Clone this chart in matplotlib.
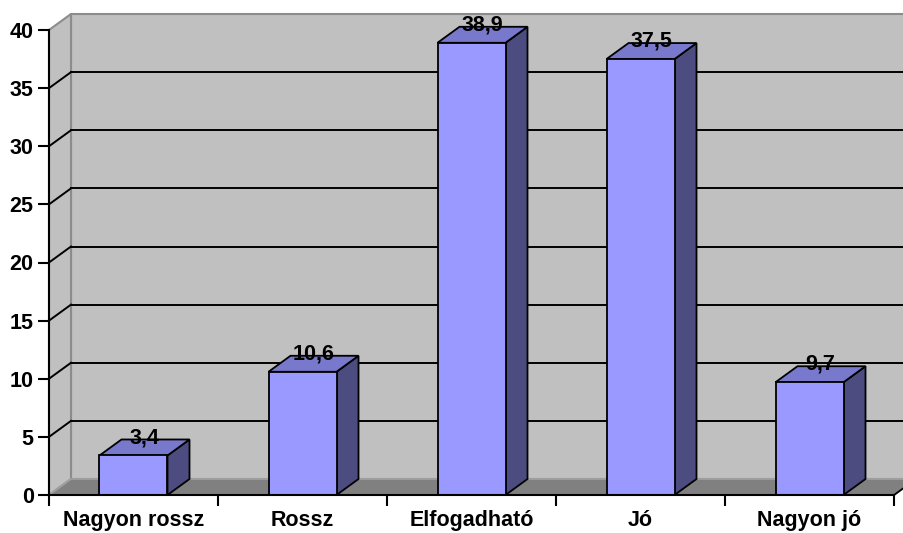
import matplotlib
matplotlib.use("Agg")
import matplotlib.pyplot as plt
from matplotlib.patches import Polygon, Rectangle

categories = ["Nagyon rossz", "Rossz", "Elfogadható", "Jó", "Nagyon jó"]
values = [3.4, 10.6, 38.9, 37.5, 9.7]
value_labels = ["3,4", "10,6", "38,9", "37,5", "9,7"]
y_ticks = [0, 5, 10, 15, 20, 25, 30, 35, 40]

plt.rcParams["font.family"] = ["Liberation Sans", "DejaVu Sans"]
plt.rcParams["font.weight"] = "bold"

W, H = 904, 533
fig = plt.figure(figsize=(W / 100, H / 100), dpi=100)
fig.patch.set_facecolor("white")

# plot area: front axis plane
ax = fig.add_axes([49 / W, 38 / H, 845 / W, 465 / H])
n = len(categories)
ymax = 40
ax.set_xlim(0, n)
ax.set_ylim(0, ymax)
ax.patch.set_visible(False)

# depth offset of the 3-D box, in data units
px_x = 845 / n
px_y = 465 / ymax
dx = 22 / px_x
dy = 16 / px_y

wall_c = "#C0C0C0"
floor_c = "#808080"
edge_c = "#8C8C8C"
fs = 15.5

# back wall
ax.add_patch(Rectangle((dx, dy), n, ymax, facecolor=wall_c, edgecolor=edge_c,
                       lw=1.5, clip_on=False, zorder=0))
# side wall
ax.add_patch(Polygon([(0, 0), (dx, dy), (dx, ymax + dy), (0, ymax)], closed=True,
                     facecolor=wall_c, edgecolor=edge_c, lw=1.5, clip_on=False, zorder=0))
# floor
ax.add_patch(Polygon([(0, 0), (n, 0), (n + dx, dy), (dx, dy)], closed=True,
                     facecolor=floor_c, edgecolor="#A0A0A0", lw=1.3, clip_on=False, zorder=1))
ax.plot([n, n + dx], [0, dy], color="black", lw=1.3, clip_on=False, zorder=2)

# gridlines on back and side walls
for t in y_ticks[1:-1]:
    ax.plot([dx, n + dx], [t + dy, t + dy], color="black", lw=1.4, clip_on=False, zorder=1)
    ax.plot([0, dx], [t, t + dy], color="black", lw=1.4, clip_on=False, zorder=1)

# bars
hw = 68 / px_x / 2
front_c = "#9999FF"
top_c = "#7878CC"
side_c = "#4C4C80"
for i, v in enumerate(values):
    c = i + 0.5
    x0, x1 = c - hw, c + hw
    ax.add_patch(Polygon([(x1, 0), (x1 + dx, dy), (x1 + dx, v + dy), (x1, v)], closed=True,
                         facecolor=side_c, edgecolor="black", lw=1.3, clip_on=False, zorder=3))
    ax.add_patch(Polygon([(x0, v), (x1, v), (x1 + dx, v + dy), (x0 + dx, v + dy)], closed=True,
                         facecolor=top_c, edgecolor="black", lw=1.3, clip_on=False, zorder=3))
    ax.add_patch(Rectangle((x0, 0), 2 * hw, v, facecolor=front_c, edgecolor="black",
                           lw=1.3, clip_on=False, zorder=4))
    ax.text(c + dx / 2, v + dy + 0.15, value_labels[i], ha="center", va="center",
            fontsize=fs, fontweight="bold", color="black", zorder=6, clip_on=False)

# axes, ticks and labels
for s in ("top", "right"):
    ax.spines[s].set_visible(False)
ax.spines["left"].set_color("black")
ax.spines["bottom"].set_color("black")
ax.spines["left"].set_linewidth(1.5)
ax.spines["bottom"].set_linewidth(1.5)
ax.spines["left"].set_zorder(5)
ax.spines["bottom"].set_zorder(5)

ax.set_yticks(y_ticks)
ax.set_yticklabels([str(t) for t in y_ticks], fontsize=fs, fontweight="bold")
ax.set_xticks(range(n + 1))
ax.set_xticklabels([])
ax.set_xticks([i + 0.5 for i in range(n)], minor=True)
ax.set_xticklabels(categories, minor=True, fontsize=fs, fontweight="bold")
ax.tick_params(axis="y", direction="out", length=8, width=1.5, pad=3)
ax.tick_params(axis="x", which="major", direction="out", length=8, width=1.5)
ax.tick_params(axis="x", which="minor", length=0, pad=11)

fig.savefig("out.png", dpi=100, facecolor="white")
